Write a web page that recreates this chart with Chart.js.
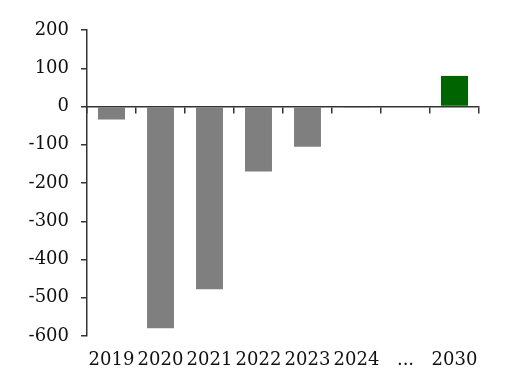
<!DOCTYPE html>
<html>
<head>
<meta charset="utf-8">
<script src="https://cdn.jsdelivr.net/npm/chart.js@4"></script>
<style>
  html, body { margin: 0; padding: 0; background: #fff; }
  #wrap { width: 505px; height: 372px; }
</style>
</head>
<body>
<div id="wrap"><canvas id="chart" width="505" height="372"></canvas></div>
<script>
// data
const categories = ['2019', '2020', '2021', '2022', '2023', '2024', '...', '2030'];
const values = [-34, -580, -478, -170, -105, -3, null, 80];
const barColors = ['#7f7f7f', '#7f7f7f', '#7f7f7f', '#7f7f7f', '#7f7f7f', '#7f7f7f', '#7f7f7f', '#006400'];
const yTicks = { min: -600, max: 200, step: 100 };

const axisColor = '#333';
const textColor = '#111';
const font = { family: 'DejaVu Serif', size: 18 };

new Chart(document.getElementById('chart').getContext('2d'), {
    type: 'bar',
    data: {
        labels: categories,
        datasets: [{
            data: values,
            backgroundColor: barColors,
            borderWidth: 0,
            categoryPercentage: 1,
            barPercentage: 0.55
        }]
    },
    options: {
        responsive: false,
        animation: false,
        layout: { padding: { left: 0, right: 26, top: 30, bottom: 0 } },
        plugins: { legend: { display: false }, tooltip: { enabled: false } },
        scales: {
            x: {
                offset: true,
                border: { display: false },
                grid: { display: false },
                ticks: { color: textColor, font: font, padding: 6, maxRotation: 0 },
                afterFit: scale => { scale.height = 36; }
            },
            // zero line with the category tick marks hanging below it
            x2: {
                type: 'category',
                position: { y: 0 },
                offset: true,
                border: { display: true, color: axisColor, width: 1.5 },
                grid: { offset: true, drawOnChartArea: false, drawTicks: true, tickLength: 6, color: axisColor, lineWidth: 1.5 },
                ticks: { display: false }
            },
            y: {
                min: yTicks.min,
                max: yTicks.max,
                border: { display: true, color: axisColor, width: 1.5 },
                grid: { drawOnChartArea: false, drawTicks: true, tickLength: 6, color: axisColor, lineWidth: 1.5 },
                ticks: { stepSize: yTicks.step, color: textColor, font: font, padding: 12 },
                afterFit: scale => { scale.width = 87; }
            }
        }
    }
});
</script>
</body>
</html>
